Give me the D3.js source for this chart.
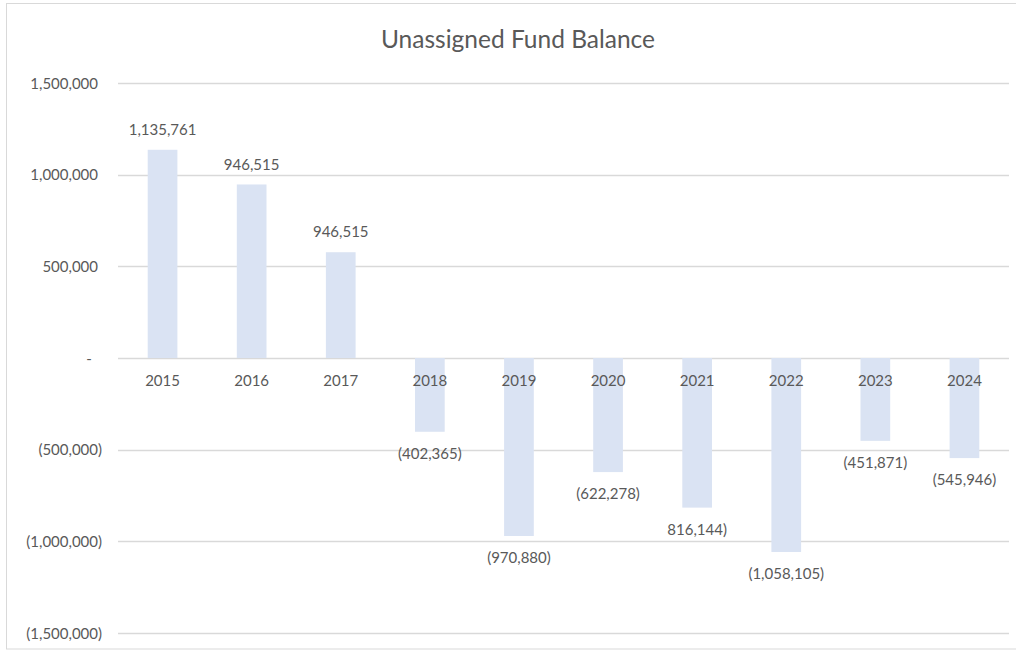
<!DOCTYPE html>
<html>
<head>
<meta charset="utf-8">
<script src="https://cdn.jsdelivr.net/npm/d3@7"></script>
<style>
  body { margin: 0; background: #fff; }
  text { font-family: Lato, "Open Sans", sans-serif; fill: #595959; }
</style>
</head>
<body>
<div id="chart"></div>
<script>
  var years = ["2015", "2016", "2017", "2018", "2019", "2020", "2021", "2022", "2023", "2024"];
  // bar heights as drawn
  var balances = [1135761, 946515, 577000, -402365, -970880, -622278, -816144, -1058105, -451871, -545946];
  // labels as printed on the chart (2017 and 2021 as they appear)
  var labels = ["1,135,761", "946,515", "946,515", "(402,365)", "(970,880)", "(622,278)", "816,144)", "(1,058,105)", "(451,871)", "(545,946)"];
  var yTicks = [-1500000, -1000000, -500000, 0, 500000, 1000000, 1500000];

  var width = 1016;
  var height = 650;

  var svg = d3
    .select("#chart")
    .append("svg")
    .attr("width", width)
    .attr("height", height);

  // chart area border
  svg.append("rect")
    .attr("x", 6.5)
    .attr("y", 3.5)
    .attr("width", 1020)
    .attr("height", 645.5)
    .attr("fill", "none")
    .attr("stroke", "#d9d9d9");

  svg.append("text")
    .attr("x", 518)
    .attr("y", 48)
    .attr("text-anchor", "middle")
    .style("font-size", "24.5px")
    .text("Unassigned Fund Balance");

  var x = d3.scaleBand().domain(years).range([118, 1009]).paddingInner(0).paddingOuter(0);
  var y = d3.scaleLinear().domain([-1500000, 1500000]).range([633, 83]);

  var fmt = d3.format(",");

  // gridlines
  svg.append("g")
    .selectAll("line")
    .data(yTicks)
    .enter()
    .append("line")
    .attr("x1", 118)
    .attr("x2", 1009)
    .attr("y1", function(d) { return Math.round(y(d)) + 0.5; })
    .attr("y2", function(d) { return Math.round(y(d)) + 0.5; })
    .attr("stroke", "#d9d9d9")
    .attr("stroke-width", 1.3);

  // y axis labels (accounting style)
  var yAxis = d3.axisLeft(y)
    .tickValues(yTicks)
    .tickSize(0)
    .tickPadding(0)
    .tickFormat(function(d) {
      if (d === 0) return "-";
      return d < 0 ? "(" + fmt(-d) + ")" : fmt(d);
    });

  var ya = svg.append("g").attr("transform", "translate(102,0)").call(yAxis);
  ya.select(".domain").remove();
  ya.selectAll("text")
    .style("font-size", "15px")
    .attr("fill", "#595959")
    .attr("dy", "0.35em")
    .attr("x", function(d) {
      if (d === 0) return -13;
      return d > 0 ? -4 : 0;
    })
    .attr("text-anchor", function(d) { return d === 0 ? "middle" : "end"; });

  var bw = x.bandwidth() / 3;

  svg.selectAll(".bar")
    .data(balances)
    .enter()
    .append("rect")
    .attr("class", "bar")
    .attr("x", function(d, i) { return x(years[i]) + x.bandwidth() / 2 - bw / 2; })
    .attr("width", bw)
    .attr("y", function(d) { return y(Math.max(0, d)); })
    .attr("height", function(d) { return Math.abs(y(d) - y(0)); })
    .attr("fill", "#dae3f3");

  // category labels just under the zero line
  var xAxis = d3.axisBottom(x).tickSize(0).tickPadding(0);
  var xa = svg.append("g").attr("transform", "translate(0," + y(0) + ")").call(xAxis);
  xa.select(".domain").remove();
  xa.selectAll("text")
    .style("font-size", "15px")
    .attr("fill", "#595959")
    .attr("y", 28)
    .attr("dy", 0);

  // value labels outside the bar end
  svg.selectAll(".label")
    .data(balances)
    .enter()
    .append("text")
    .attr("class", "label")
    .attr("x", function(d, i) { return x(years[i]) + x.bandwidth() / 2; })
    .attr("y", function(d) { return d >= 0 ? y(d) - 20 : y(d) + 22; })
    .attr("dy", "0.35em")
    .attr("text-anchor", "middle")
    .style("font-size", "15px")
    .text(function(d, i) { return labels[i]; });
</script>
</body>
</html>
